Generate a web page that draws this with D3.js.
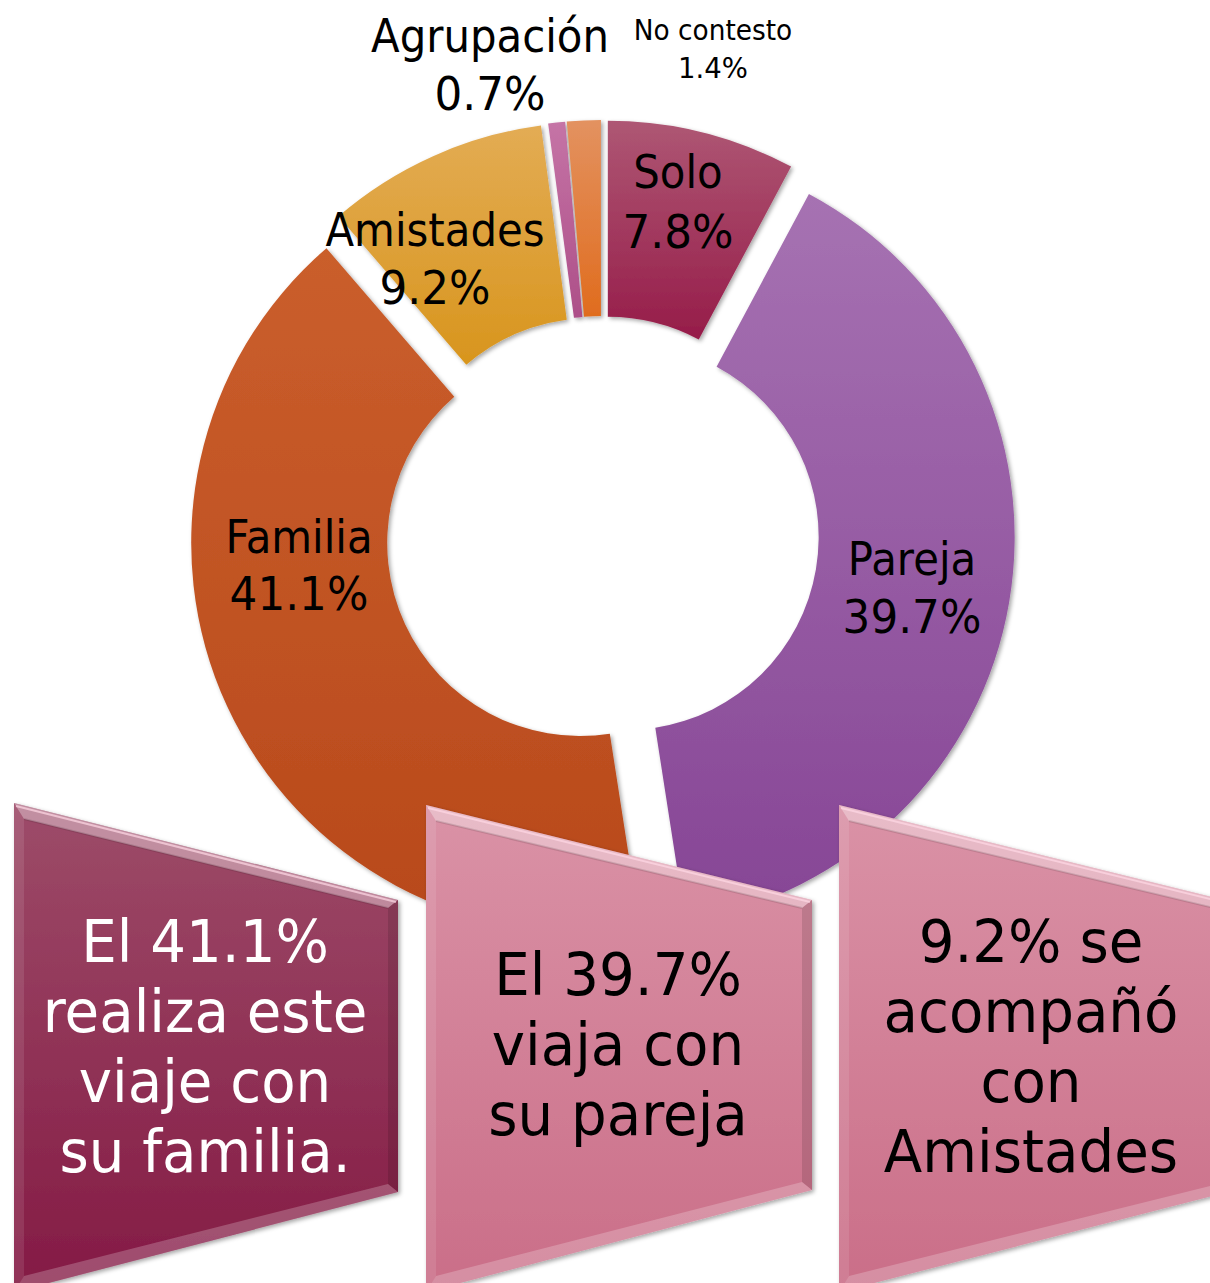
<!DOCTYPE html>
<html><head><meta charset="utf-8">
<script src="https://cdn.jsdelivr.net/npm/d3@7"></script>
<style>html,body{margin:0;padding:0;background:#fff;}svg{display:block;}</style>
</head><body>
<script>
// ---- data ----
const categories = ["Solo", "Pareja", "Familia", "Amistades", "Agrupación", "No contesto"];
const values = [7.8, 39.7, 41.1, 9.2, 0.7, 1.4];
const valueLabels = ["7.8%", "39.7%", "41.1%", "9.2%", "0.7%", "1.4%"];
const boxLines = [
  ["El 41.1%", "realiza este", "viaje con", "su familia."],
  ["El 39.7%", "viaja con", "su pareja"],
  ["9.2% se", "acompañó", "con", "Amistades"]
];

// ---- layout / style ----
const W = 1210, H = 1283;
const cx = 602, cy = 533, R = 389, r = 193, explode = 24;
const sliceColors = [
  ["#ae5774", "#961c49"],
  ["#a672b2", "#864595"],
  ["#ca5e2c", "#b8491b"],
  ["#e3ac54", "#d8951d"],
  ["#c574a6", "#ad4f88"],
  ["#e39260", "#e06c1e"]
];
const labelPos = [
  {x: 678, y1: 188, y2: 248, fs: 46},
  {x: 912, y1: 575, y2: 633, fs: 46},
  {x: 299, y1: 553, y2: 610, fs: 46},
  {x: 435, y1: 246, y2: 304, fs: 46},
  {x: 490, y1: 52, y2: 110, fs: 46},
  {x: 713, y1: 40, y2: 78, fs: 29}
];
const boxes = [
  {x0: 14, x1: 398, yTL: 803, yTR: 900, yBR: 1192, yBL: 1292, c: ["#9d4c69", "#841a44"], text: "#fff", tx: 205, base: 962},
  {x0: 426, x1: 812, yTL: 805, yTR: 900, yBR: 1190, yBL: 1292, c: ["#da92a6", "#ca6e88"], text: "#000", tx: 618, base: 995},
  {x0: 839, x1: 1224, yTL: 805, yTR: 900, yBR: 1193, yBL: 1292, c: ["#da92a6", "#ca6e88"], text: "#000", tx: 1031, base: 962}
];
const lineGap = 70;
const FONT = "'DejaVu Sans', Verdana, sans-serif";

const svg = d3.select("body").append("svg").attr("width", W).attr("height", H);
const defs = svg.append("defs");

const sh = defs.append("filter").attr("id", "shadow").attr("x", "-10%").attr("y", "-10%").attr("width", "130%").attr("height", "130%");
sh.append("feDropShadow").attr("dx", 2).attr("dy", 2).attr("stdDeviation", 2).attr("flood-color", "#000").attr("flood-opacity", 0.35);

sliceColors.forEach((c, i) => {
  const g = defs.append("linearGradient").attr("id", "sg" + i).attr("x1", 0).attr("y1", 0).attr("x2", 0).attr("y2", 1);
  g.append("stop").attr("offset", "0%").attr("stop-color", c[0]);
  g.append("stop").attr("offset", "100%").attr("stop-color", c[1]);
});
boxes.forEach((b, i) => {
  const g = defs.append("linearGradient").attr("id", "bg" + i).attr("x1", 0).attr("y1", 0).attr("x2", 0).attr("y2", 1);
  g.append("stop").attr("offset", "0%").attr("stop-color", b.c[0]);
  g.append("stop").attr("offset", "100%").attr("stop-color", b.c[1]);
});

// ---- donut ----
const pie = d3.pie().sort(null).value(d => d).startAngle(0).endAngle(2 * Math.PI);
const arcs = pie(values);
const arc = d3.arc().innerRadius(r).outerRadius(R);

const donut = svg.append("g").attr("transform", `translate(${cx},${cy})`);
donut.selectAll("path").data(arcs).join("path")
  .attr("d", arc)
  .attr("fill", (d, i) => `url(#sg${i})`)
  .attr("filter", "url(#shadow)")
  .attr("transform", d => {
    const m = (d.startAngle + d.endAngle) / 2;
    return `translate(${Math.sin(m) * explode},${-Math.cos(m) * explode})`;
  });

// ---- slice labels ----
const lab = svg.append("g").attr("font-family", FONT).attr("fill", "#000").attr("text-anchor", "middle");
categories.forEach((c, i) => {
  const p = labelPos[i];
  lab.append("text").attr("transform", `translate(${p.x},${p.y1}) scale(0.91,1)`).attr("font-size", p.fs).text(c);
  lab.append("text").attr("transform", `translate(${p.x},${p.y2}) scale(0.95,1)`).attr("font-size", p.fs).text(valueLabels[i]);
});

// ---- callout boxes ----
const bev = 10;
boxes.forEach((b, i) => {
  const g = svg.append("g");
  const o = [[b.x0, b.yTL], [b.x1, b.yTR], [b.x1, b.yBR], [b.x0, b.yBL]];
  const inn = [[b.x0 + bev, b.yTL + bev * 1.6], [b.x1 - bev, b.yTR + bev * 0.8], [b.x1 - bev, b.yBR - bev * 0.8], [b.x0 + bev, b.yBL - bev * 1.6]];
  g.append("polygon").attr("points", o.map(p => p.join(",")).join(" ")).attr("fill", `url(#bg${i})`).attr("filter", "url(#shadow)");
  const sides = [
    {pts: [o[0], o[1], inn[1], inn[0]], fill: "#ffffff", op: 0.38},
    {pts: [o[1], o[2], inn[2], inn[1]], fill: "#000000", op: 0.12},
    {pts: [o[2], o[3], inn[3], inn[2]], fill: "#ffffff", op: 0.22},
    {pts: [o[3], o[0], inn[0], inn[3]], fill: "#ffffff", op: 0.10}
  ];
  sides.forEach(s => g.append("polygon").attr("points", s.pts.map(p => p.join(",")).join(" ")).attr("fill", s.fill).attr("fill-opacity", s.op));
  g.append("line").attr("x1", o[0][0] + 2).attr("y1", o[0][1] + 3).attr("x2", o[1][0] - 2).attr("y2", o[1][1] + 2)
    .attr("stroke", "#ffd8e6").attr("stroke-opacity", 0.7).attr("stroke-width", 2);
  g.append("line").attr("x1", inn[0][0]).attr("y1", inn[0][1]).attr("x2", inn[1][0]).attr("y2", inn[1][1])
    .attr("stroke", "#000").attr("stroke-opacity", 0.12).attr("stroke-width", 2);

  const t = g.append("g").attr("font-family", FONT).attr("fill", b.text).attr("text-anchor", "middle");
  boxLines[i].forEach((line, k) => {
    t.append("text").attr("transform", `translate(${b.tx},${b.base + k * lineGap}) scale(0.97,1)`)
      .attr("font-size", 58).text(line);
  });
});
</script>
</body></html>
